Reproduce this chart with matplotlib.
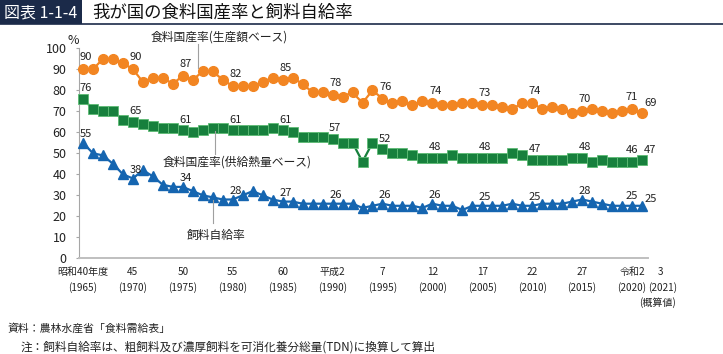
import matplotlib
matplotlib.use("Agg")
import matplotlib.pyplot as plt
from matplotlib.patches import Rectangle
from matplotlib.lines import Line2D

plt.rcParams['font.family'] = ['Noto Sans CJK JP', 'DejaVu Sans']

W, H = 723, 354

years = list(range(1965, 2022))

# 食料国産率(生産額ベース)
prod_value = [90, 90, 95, 95, 93, 90, 84, 86, 86, 83,
              87, 85, 89, 89, 85, 82, 82, 82, 84, 86,
              85, 86, 83, 79, 79, 78, 77, 79, 74, 80,
              76, 74, 75, 73, 75, 74, 73, 73, 74, 74,
              73, 73, 72, 71, 74, 74, 71, 72, 71, 69,
              70, 71, 70, 69, 70, 71, 69]

# 食料国産率(供給熱量ベース)
calorie = [76, 71, 70, 70, 66, 65, 64, 63, 62, 62,
           61, 60, 61, 62, 62, 61, 61, 61, 61, 62,
           61, 60, 58, 58, 58, 57, 55, 55, 46, 55,
           52, 50, 50, 49, 48, 48, 48, 49, 48, 48,
           48, 48, 48, 50, 49, 47, 47, 47, 47, 48,
           48, 46, 47, 46, 46, 46, 47]

# 飼料自給率
feed = [55, 50, 49, 45, 40, 38, 42, 39, 35, 34,
        34, 32, 30, 29, 28, 28, 30, 32, 30, 28,
        27, 27, 26, 26, 26, 26, 26, 26, 24, 25,
        26, 25, 25, 25, 24, 26, 25, 25, 23, 25,
        25, 25, 25, 26, 25, 25, 26, 26, 26, 27,
        28, 27, 26, 25, 25, 25, 25]

label_years = [1965, 1970, 1975, 1980, 1985, 1990, 1995, 2000, 2005, 2010, 2015, 2020, 2021]
tick_years = [1965, 1970, 1975, 1980, 1985, 1990, 1995, 2000, 2005, 2010, 2015, 2020]
tick_era = ['昭和40年度', '45', '50', '55', '60', '平成2', '7', '12', '17', '22', '27', '令和2']

ORANGE = '#F28522'
GREEN = '#17803D'
BLUE = '#1565B0'
NAVY = '#1B2A49'
TXT = '#222222'


def fx(px):
    return px / W


def fy(py):
    return 1 - py / H


fig = plt.figure(figsize=(W / 100, H / 100), dpi=100)

# title bar
fig.patches.append(Rectangle((0, fy(24)), fx(82), 24 / H, transform=fig.transFigure,
                             facecolor=NAVY, edgecolor='none'))
fig.lines.append(Line2D([0, 1], [fy(24), fy(24)], transform=fig.transFigure,
                        color=NAVY, lw=1.2))
fig.text(fx(41), fy(12.5), '図表 1-1-4', color='white', fontsize=11.5,
         ha='center', va='center')
fig.text(fx(92), fy(12.5), '我が国の食料国産率と飼料自給率', color='#111111',
         fontsize=12.5, ha='left', va='center')

ax = fig.add_axes([fx(79), fy(258.3), fx(648 - 79), (258.3 - 48.3) / H])
ax.set_xlim(1964.6, 2021.6)
ax.set_ylim(0, 100)

ax.plot(years, prod_value, color=ORANGE, lw=1.6, marker='o', ms=7,
        mec=ORANGE, zorder=3, clip_on=False)
ax.plot(years, calorie, color=GREEN, lw=1.6, marker='s', ms=6.5,
        mec='#5DBB74', mew=0.6, zorder=3, clip_on=False)
ax.plot(years, feed, color=BLUE, lw=1.6, marker='^', ms=7,
        mec=BLUE, zorder=3, clip_on=False)

# data labels
offsets = [(prod_value, 8.6), (calorie, 7.6), (feed, 6.2)]
for series, dy in offsets:
    for yr in label_years:
        v = series[years.index(yr)]
        dx = 2
        ddy = dy
        if yr == 2021:
            dx = 6
            ddy = dy - 1
        elif yr == 2020:
            dx = 0
            ddy = dy + 0.5
        ax.annotate(str(v), xy=(yr, v), xytext=(dx, ddy), textcoords='offset points',
                    ha='center', va='center', fontsize=8, color=TXT, zorder=4)

ax.set_yticks(range(0, 101, 10))
ax.tick_params(axis='y', length=2, width=0.8, color='#A6A6A6', pad=7,
               labelsize=9, labelcolor=TXT)
ax.set_xticks([])
for s in ['top', 'right']:
    ax.spines[s].set_visible(False)
ax.spines['left'].set_color('#A6A6A6')
ax.spines['left'].set_linewidth(0.8)
ax.spines['bottom'].set_color('#BFBFBF')
ax.spines['bottom'].set_linewidth(1.4)

fig.text(fx(73), fy(40), '%', fontsize=9, ha='center', va='center', color=TXT)

# x labels
XFS = 7.2
for yr, era in zip(tick_years, tick_era):
    ax.annotate(era, xy=(yr, 0), xycoords=('data', 'axes fraction'), xytext=(0, -9.9),
                textcoords='offset points', ha='center', va='center', fontsize=XFS, color=TXT)
    ax.annotate(f'({yr})', xy=(yr, 0), xycoords=('data', 'axes fraction'),
                xytext=(0, -21.4), textcoords='offset points', ha='center', va='center',
                fontsize=XFS, color=TXT)
ax.annotate('3', xy=(2021, 0), xycoords=('data', 'axes fraction'), xytext=(13, -9.9),
            textcoords='offset points', ha='center', va='center', fontsize=XFS, color=TXT)
ax.annotate('(2021)', xy=(2021, 0), xycoords=('data', 'axes fraction'), xytext=(15, -21.4),
            textcoords='offset points', ha='center', va='center', fontsize=XFS, color=TXT)
ax.annotate('(概算値)', xy=(2021, 0), xycoords=('data', 'axes fraction'), xytext=(11, -32.2),
            textcoords='offset points', ha='center', va='center', fontsize=XFS, color=TXT)

# series names with leader lines
fig.lines.append(Line2D([fx(198), fx(198)], [fy(44), fy(68)], transform=fig.transFigure,
                        color='#A0A0A0', lw=0.8))
fig.text(fx(219), fy(37), '食料国産率(生産額ベース)', fontsize=8.5, ha='center', va='center',
         color=TXT)
fig.lines.append(Line2D([fx(215), fx(215)], [fy(131), fy(154)], transform=fig.transFigure,
                        color='#A0A0A0', lw=0.8))
fig.text(fx(237), fy(162), '食料国産率(供給熱量ベース)', fontsize=8.5, ha='center', va='center',
         color=TXT)
fig.lines.append(Line2D([fx(213), fx(213)], [fy(200), fy(223)], transform=fig.transFigure,
                        color='#A0A0A0', lw=0.8))
fig.text(fx(216), fy(235), '飼料自給率', fontsize=8.5, ha='center', va='center', color=TXT)

# notes
fig.text(fx(7), fy(328), '資料：農林水産省「食料需給表」', fontsize=7.8, ha='left', va='center',
         color=TXT)
fig.text(fx(21), fy(347), '注：飼料自給率は、粗飼料及び濃厚飼料を可消化養分総量(TDN)に換算して算出',
         fontsize=8.4, ha='left', va='center', color=TXT)

fig.savefig('out.png', dpi=100)
